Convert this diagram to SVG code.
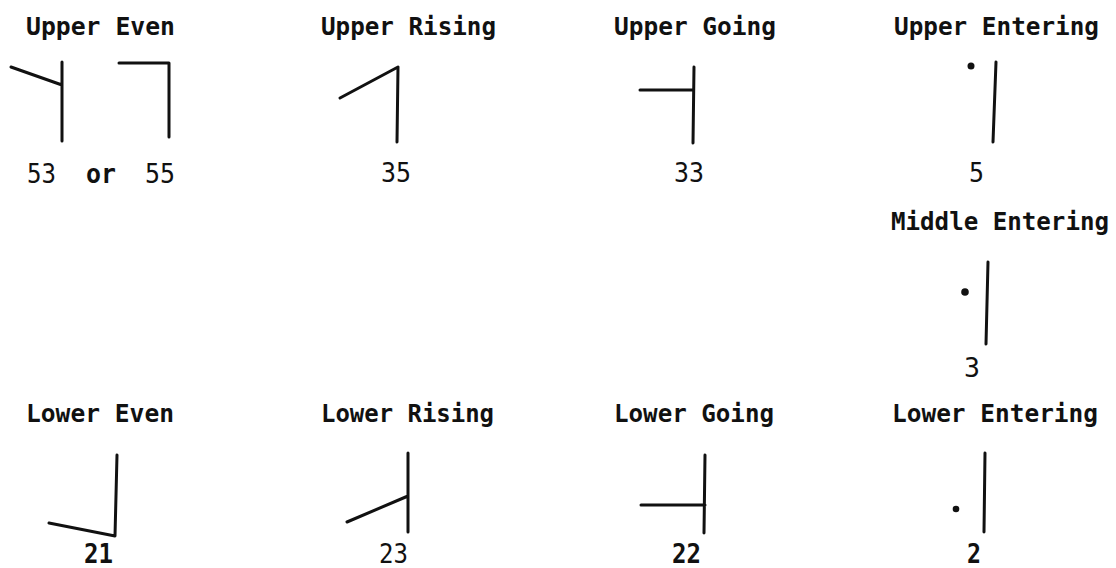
<svg xmlns="http://www.w3.org/2000/svg" width="1116" height="568" viewBox="0 0 1116 568">
<style>
.t{font-family:"DejaVu Sans Mono","Liberation Mono",monospace;font-weight:bold;font-size:24px;fill:#111}
.n{font-family:"DejaVu Sans Mono","Liberation Mono",monospace;font-size:27px;fill:#111}
.nb{font-family:"DejaVu Sans Mono","Liberation Mono",monospace;font-weight:bold;font-size:26px;fill:#111}
.s{fill:none;stroke:#111;stroke-width:3;stroke-linecap:round;stroke-linejoin:round}
.d{fill:#111}
</style>
<rect width="1116" height="568" fill="#fff"/>
<g id="upper-even">
<text class="t" x="26" y="35" textLength="149" lengthAdjust="spacingAndGlyphs">Upper Even</text>
<path class="s" d="M11 67 L62 85 M62 62 L62 141"/>
<path class="s" d="M119 63 L169 63 L169 137"/>
<text class="n" x="27" y="183" textLength="29" lengthAdjust="spacingAndGlyphs">53</text>
<text class="nb" x="86" y="183" textLength="30" lengthAdjust="spacingAndGlyphs">or</text>
<text class="n" x="145" y="183" textLength="30" lengthAdjust="spacingAndGlyphs">55</text>
</g>
<g id="upper-rising">
<text class="t" x="321" y="35" textLength="175" lengthAdjust="spacingAndGlyphs">Upper Rising</text>
<path class="s" d="M340 98 L398 67 L397 142"/>
<text class="n" x="381" y="182" textLength="30" lengthAdjust="spacingAndGlyphs">35</text>
</g>
<g id="upper-going">
<text class="t" x="614" y="35" textLength="162" lengthAdjust="spacingAndGlyphs">Upper Going</text>
<path class="s" d="M640 90 L693 90 M694 67 L693 143"/>
<text class="n" x="674" y="182" textLength="30" lengthAdjust="spacingAndGlyphs">33</text>
</g>
<g id="upper-entering">
<text class="t" x="894" y="35" textLength="205" lengthAdjust="spacingAndGlyphs">Upper Entering</text>
<circle class="d" cx="971" cy="66" r="3.5"/>
<path class="s" d="M996 62 L993 142"/>
<text class="n" x="969" y="182" textLength="15" lengthAdjust="spacingAndGlyphs">5</text>
</g>
<g id="middle-entering">
<text class="t" x="891" y="230" textLength="218" lengthAdjust="spacingAndGlyphs">Middle Entering</text>
<circle class="d" cx="965" cy="292" r="3.8"/>
<path class="s" d="M988 262 L986 344"/>
<text class="n" x="964" y="377" textLength="16" lengthAdjust="spacingAndGlyphs">3</text>
</g>
<g id="lower-even">
<text class="t" x="26" y="422" textLength="148" lengthAdjust="spacingAndGlyphs">Lower Even</text>
<path class="s" d="M117 455 L115 536 L49 523"/>
<text class="nb" x="84" y="563" textLength="29" lengthAdjust="spacingAndGlyphs">21</text>
</g>
<g id="lower-rising">
<text class="t" x="321" y="422" textLength="173" lengthAdjust="spacingAndGlyphs">Lower Rising</text>
<path class="s" d="M408 453 L408 532 M347 522 L408 496"/>
<text class="n" x="379" y="563" textLength="29" lengthAdjust="spacingAndGlyphs">23</text>
</g>
<g id="lower-going">
<text class="t" x="614" y="422" textLength="160" lengthAdjust="spacingAndGlyphs">Lower Going</text>
<path class="s" d="M705 455 L704 533 M641 505 L705 505"/>
<text class="nb" x="672" y="563" textLength="29" lengthAdjust="spacingAndGlyphs">22</text>
</g>
<g id="lower-entering">
<text class="t" x="892" y="422" textLength="206" lengthAdjust="spacingAndGlyphs">Lower Entering</text>
<circle class="d" cx="956" cy="509" r="3.3"/>
<path class="s" d="M985 453 L984 532"/>
<text class="nb" x="967" y="563" textLength="14" lengthAdjust="spacingAndGlyphs">2</text>
</g>
</svg>
